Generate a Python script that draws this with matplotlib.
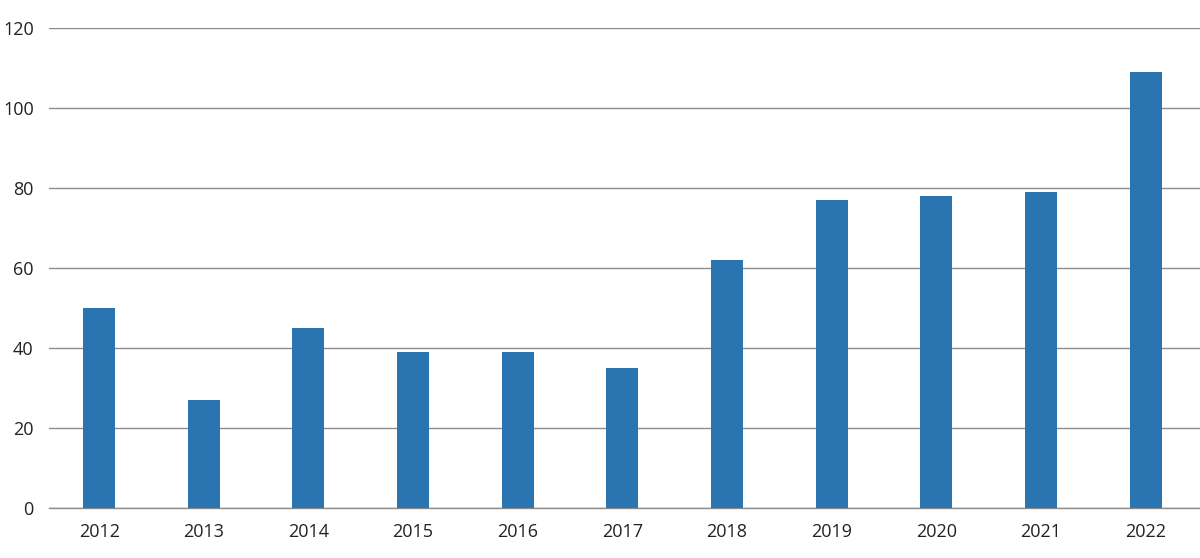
import matplotlib
matplotlib.use("Agg")
import matplotlib.pyplot as plt
import numpy as np

years = ["2012", "2013", "2014", "2015", "2016", "2017",
         "2018", "2019", "2020", "2021", "2022"]
values = [50, 27, 45, 39, 39, 35, 62, 77, 78, 79, 109]
yticks = [0, 20, 40, 60, 80, 100, 120]

plt.rcParams['font.family'] = ['Open Sans', 'DejaVu Sans']

fig = plt.figure(figsize=(12, 5.58), dpi=100)
ax = fig.add_axes([0.0408, 0.0896, 0.9592, 0.8602])

x = np.arange(len(years))
ax.bar(x, values, width=0.306, color="#2a74b1", zorder=3)

ax.set_ylim(0, 120)
ax.set_xlim(-0.48, 10.52)
ax.set_yticks(yticks)
ax.set_xticks(x)
ax.set_xticklabels(years)
ax.yaxis.grid(True, color="#8c8c8c", linewidth=1.0, zorder=0)
ax.tick_params(axis="both", length=0, labelsize=13, colors="#222222")
ax.tick_params(axis="y", pad=11)
ax.tick_params(axis="x", pad=11)
for s in ["top", "right", "left"]:
    ax.spines[s].set_visible(False)
ax.spines["bottom"].set_color("#8c8c8c")
ax.spines["bottom"].set_linewidth(1.0)

fig.savefig("out.png", dpi=100)
